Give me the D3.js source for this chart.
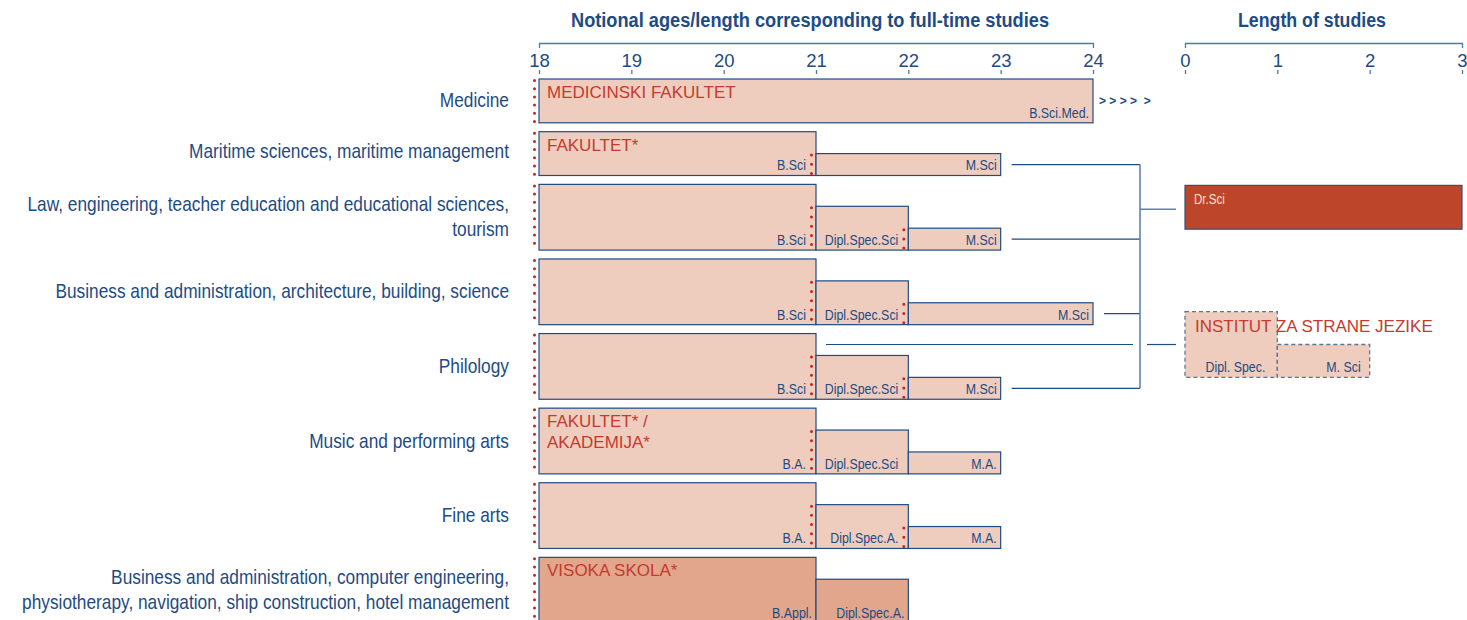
<!DOCTYPE html>
<html><head><meta charset="utf-8">
<script src="https://cdn.jsdelivr.net/npm/d3@7"></script>
<style>
html,body{margin:0;padding:0;background:#fff;}
svg{display:block;}
</style></head>
<body>
<svg id="chart" width="1467" height="620"></svg>
<script>
// ---------------- DATA ----------------
const categories = [
  "Medicine",
  "Maritime sciences, maritime management",
  "Law, engineering, teacher education and educational sciences,\ntourism",
  "Business and administration, architecture, building, science",
  "Philology",
  "Music and performing arts",
  "Fine arts",
  "Business and administration, computer engineering,\nphysiotherapy, navigation, ship construction, hotel management"
];
const rowTiers = [2, 2, 3, 3, 3, 3, 3, 3];
const institutions = ["MEDICINSKI FAKULTET", "FAKULTET*", "", "", "", "FAKULTET* /\nAKADEMIJA*", "", "VISOKA SKOLA*"];
const professionalRows = [7];
// [row, from age, to age, level, degree]
const programmes = [
  [0, 18, 24, 0, "B.Sci.Med."],
  [1, 18, 21, 0, "B.Sci"], [1, 21, 23, 1, "M.Sci"],
  [2, 18, 21, 0, "B.Sci"], [2, 21, 22, 1, "Dipl.Spec.Sci"], [2, 22, 23, 2, "M.Sci"],
  [3, 18, 21, 0, "B.Sci"], [3, 21, 22, 1, "Dipl.Spec.Sci"], [3, 22, 24, 2, "M.Sci"],
  [4, 18, 21, 0, "B.Sci"], [4, 21, 22, 1, "Dipl.Spec.Sci"], [4, 22, 23, 2, "M.Sci"],
  [5, 18, 21, 0, "B.A."], [5, 21, 22, 1, "Dipl.Spec.Sci"], [5, 22, 23, 2, "M.A."],
  [6, 18, 21, 0, "B.A."], [6, 21, 22, 1, "Dipl.Spec.A."], [6, 22, 23, 2, "M.A."],
  [7, 18, 21, 0, "B.Appl."], [7, 21, 22, 1, "Dipl.Spec.A."]
];
// [row, age] boundaries marked with red dotted lines
const dottedBoundaries = [
  [0, 18], [1, 18], [2, 18], [3, 18], [4, 18], [5, 18], [6, 18], [7, 18],
  [1, 21], [2, 21], [3, 21], [4, 21], [5, 21], [6, 21],
  [2, 22], [3, 22], [4, 22], [6, 22]
];
// [row, age at end] programmes leading to the doctorate
const doctorateLinks = [[1, 23], [2, 23], [3, 24], [4, 23]];
const doctorate = {from: 0, to: 3, label: "Dr.Sci"};
const institutName = "INSTITUT ZA STRANE JEZIKE";
const institutProgrammes = [[0, 1, 3, "Dipl. Spec."], [1, 2, 1.5, "M. Sci"]]; // from, to, height in levels, label
const ageTicks = [18, 19, 20, 21, 22, 23, 24];
const lengthTicks = [0, 1, 2, 3];
const titleAges = "Notional ages/length corresponding to full-time studies";
const titleLength = "Length of studies";
const continuation = "> > > >  >";

// ---------------- STYLE ----------------
const navy = "#1d4b84", axisCol = "#4f78a6", red = "#c53a2e", dotRed = "#c4261f";
const fillLight = "#efcdbe", fillDark = "#e1a68c", drFill = "#bd452a";
const sans = "'Liberation Sans',Arial,sans-serif";

// horizontally condensed text via a scale transform
function condensedText(parent, str, xPos, yPos, size, factor, color, alignEnd) {
  return parent.append("text")
    .attr("transform", `translate(${xPos},${yPos}) scale(${factor},1)`)
    .attr("text-anchor", alignEnd ? "end" : "start")
    .attr("font-family", sans).attr("font-size", size).attr("fill", color).text(str);
}

const svg = d3.select("#chart");

const x = d3.scaleLinear().domain([18, 24]).range([539, 1093]);
const xr = d3.scaleLinear().domain([0, 3]).range([1185, 1462]);
// vertical scale in "level" units
const gapUnits = 0.406;
const rowStart = [];
{ let acc = 0; rowTiers.forEach(t => { rowStart.push(acc); acc += t + gapUnits; }); }
const y = d3.scaleLinear().domain([0, 1]).range([79, 79 + 21.9]);

// ---------------- TITLES ----------------
svg.append("text").attr("x", 810).attr("y", 27).attr("text-anchor", "middle")
  .attr("font-family", sans).attr("font-weight", "bold").attr("font-size", 20)
  .attr("fill", navy).attr("textLength", 478).attr("lengthAdjust", "spacingAndGlyphs")
  .text(titleAges);
svg.append("text").attr("x", 1312).attr("y", 27).attr("text-anchor", "middle")
  .attr("font-family", sans).attr("font-weight", "bold").attr("font-size", 20)
  .attr("fill", navy).attr("textLength", 148).attr("lengthAdjust", "spacingAndGlyphs")
  .text(titleLength);

// ---------------- AXES ----------------
function drawAxis(scale, ticks) {
  const g = svg.append("g").attr("transform", "translate(0,43)")
    .call(d3.axisBottom(scale).tickValues(ticks).tickFormat(d3.format("d"))
      .tickSizeInner(0).tickSizeOuter(5).tickPadding(11));
  g.select(".domain").attr("stroke", axisCol).attr("stroke-width", 1.3);
  g.selectAll(".tick text").attr("font-family", sans).attr("font-size", 18.5).attr("fill", navy);
  g.selectAll(".tick").append("line").attr("y1", 27).attr("y2", 31)
    .attr("stroke", axisCol).attr("stroke-width", 1.3);
}
drawAxis(x, ageTicks);
drawAxis(xr, lengthTicks);

// ---------------- CATEGORY LABELS ----------------
categories.forEach((c, i) => {
  const lines = c.split("\n");
  const mid = y(rowStart[i] + rowTiers[i] / 2) - (rowTiers[i] === 2 && i > 0 ? 2 : 0);
  lines.forEach((l, k) => {
    condensedText(svg, l, 509, mid + (k - (lines.length - 1) / 2) * 24.5 + 6.5, 20, 0.865, navy, true);
  });
});

// ---------------- BARS ----------------
const bars = svg.append("g");
programmes.forEach(p => {
  const [r, a0, a1, lev, lab] = p;
  const top = y(rowStart[r] + lev), bot = y(rowStart[r] + rowTiers[r]);
  bars.append("rect").attr("x", x(a0)).attr("y", top)
    .attr("width", x(a1) - x(a0)).attr("height", bot - top)
    .attr("fill", professionalRows.includes(r) ? fillDark : fillLight)
    .attr("stroke", navy).attr("stroke-width", 1.2);
});
programmes.forEach(p => {
  const [r, a0, a1, lev, lab] = p;
  const bot = y(rowStart[r] + rowTiers[r]);
  const nextDotted = dottedBoundaries.some(d => d[0] === r && d[1] === a1) || (r === 5 && a1 === 22);
  condensedText(bars, lab, x(a1) - (nextDotted ? 10 : 4), bot - 5, 15.5, 0.8, navy, true);
});

// dotted boundaries
dottedBoundaries.forEach(([r, a]) => {
  const seg = programmes.find(p => p[0] === r && p[1] === a);
  const top = y(rowStart[r] + seg[3]), bot = y(rowStart[r] + rowTiers[r]);
  const isStart = a === 18;
  bars.append("line").attr("x1", x(a) - 4.5).attr("x2", x(a) - 4.5)
    .attr("y1", top + 1.5).attr("y2", bot)
    .attr("stroke", dotRed).attr("stroke-width", 3).attr("stroke-linecap", "round")
    .attr("stroke-dasharray", isStart ? "0 8.2" : "0 9.2");
});

// institution names
institutions.forEach((n, i) => {
  if (!n) return;
  n.split("\n").forEach((l, k) => {
    svg.append("text").attr("font-family", sans).attr("font-size", 17).attr("fill", red)
      .attr("x", x(18) + 8).attr("y", y(rowStart[i]) + 19 + k * 21).text(l);
  });
});

// continuation arrows after medicine
svg.append("text").attr("x", x(24) + 6).attr("y", y(rowStart[0] + 1) + 4)
  .attr("font-family", sans).attr("font-size", 12).attr("font-weight", "bold")
  .attr("fill", navy).style("white-space", "pre").text(continuation);

// ---------------- CONNECTORS ----------------
const vx = xr(0) - 45;
const conn = svg.append("g");
const linkYs = doctorateLinks.map(([r, a]) => {
  const seg = programmes.find(p => p[0] === r && p[2] === a);
  const yy = y(rowStart[r] + (seg[3] + rowTiers[r]) / 2);
  conn.append("line").attr("x1", x(a) + 11).attr("x2", vx).attr("y1", yy).attr("y2", yy)
    .attr("stroke", navy).attr("stroke-width", 1.2);
  return yy;
});
conn.append("line").attr("x1", vx).attr("x2", vx)
  .attr("y1", d3.min(linkYs)).attr("y2", d3.max(linkYs))
  .attr("stroke", "#5f82ad").attr("stroke-width", 1.6);

// Dr.Sci bar
const drTop = y(rowStart[2]) + 1, drBot = y(rowStart[2] + 2) + 1;
conn.append("line").attr("x1", vx).attr("x2", xr(0) - 9)
  .attr("y1", (drTop + drBot) / 2 + 2).attr("y2", (drTop + drBot) / 2 + 2)
  .attr("stroke", "#5f82ad").attr("stroke-width", 1.4);
svg.append("rect").attr("x", xr(doctorate.from)).attr("y", drTop)
  .attr("width", xr(doctorate.to) - xr(doctorate.from)).attr("height", drBot - drTop)
  .attr("fill", drFill).attr("stroke", "#3a4f78").attr("stroke-width", 1.2);
condensedText(svg, doctorate.label, xr(0) + 9, drTop + 19, 14.5, 0.8, "#f6e2d9", false);

// Philology -> institut link
const phY = y(rowStart[4] + 0.5);
conn.append("line").attr("x1", x(21) + 10).attr("x2", vx - 7).attr("y1", phY).attr("y2", phY)
  .attr("stroke", navy).attr("stroke-width", 1.2);
conn.append("line").attr("x1", vx + 7).attr("x2", xr(0) - 9).attr("y1", phY).attr("y2", phY)
  .attr("stroke", navy).attr("stroke-width", 1.2);

// institut bars
const instBot = y(rowStart[4] + 2);
institutProgrammes.forEach(([a0, a1, h]) => {
  svg.append("rect").attr("x", xr(a0)).attr("y", instBot - (y(h) - y(0)))
    .attr("width", xr(a1) - xr(a0)).attr("height", y(h) - y(0))
    .attr("fill", fillLight).attr("stroke", "#5c7595").attr("stroke-width", 1.3)
    .attr("stroke-dasharray", "4 3");
});
institutProgrammes.forEach(([a0, a1, h, lab], i) => {
  condensedText(svg, lab, xr(a1) - (i === 0 ? 12 : 9), instBot - 5, 15.5, 0.8, navy, true);
});
svg.append("text").attr("x", xr(0) + 10).attr("y", instBot - (y(3) - y(0)) + 20)
  .attr("font-family", sans).attr("font-size", 17).attr("fill", red).text(institutName);
</script>
</body></html>
